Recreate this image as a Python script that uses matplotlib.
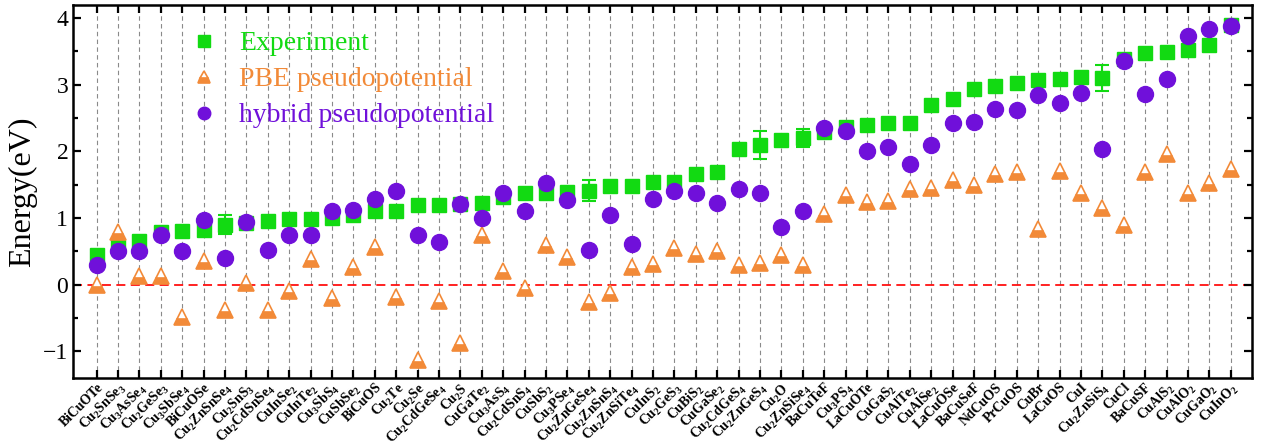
#!/usr/bin/env python3
"""Band gaps of Cu-based compounds: experiment vs PBE and hybrid pseudopotentials."""
import matplotlib
matplotlib.use("Agg")
import matplotlib.pyplot as plt
import matplotlib.transforms as mtransforms
from matplotlib.lines import Line2D
from matplotlib.ticker import MultipleLocator

COMPOUNDS = [
    "BiCuOTe", "Cu$_2$SnSe$_3$", "Cu$_3$AsSe$_4$", "Cu$_2$GeSe$_3$", "Cu$_3$SbSe$_4$",
    "BiCuOSe", "Cu$_2$ZnSnSe$_4$", "Cu$_2$SnS$_3$", "Cu$_2$CdSnSe$_4$", "CuInSe$_2$",
    "CuInTe$_2$", "Cu$_3$SbS$_4$", "CuSbSe$_2$", "BiCuOS", "Cu$_2$Te",
    "Cu$_2$Se", "Cu$_2$CdGeSe$_4$", "Cu$_2$S", "CuGaTe$_2$", "Cu$_3$AsS$_4$",
    "Cu$_2$CdSnS$_4$", "CuSbS$_2$", "Cu$_3$PSe$_4$", "Cu$_2$ZnGeSe$_4$", "Cu$_2$ZnSnS$_4$",
    "Cu$_2$ZnSiTe$_4$", "CuInS$_2$", "Cu$_2$GeS$_3$", "CuBiS$_2$", "CuGaSe$_2$",
    "Cu$_2$CdGeS$_4$", "Cu$_2$ZnGeS$_4$", "Cu$_2$O", "Cu$_2$ZnSiSe$_4$", "BaCuTeF",
    "Cu$_3$PS$_4$", "LaCuOTe", "CuGaS$_2$", "CuAlTe$_2$", "CuAlSe$_2$",
    "LaCuOSe", "BaCuSeF", "NdCuOS", "PrCuOS", "CuBr",
    "LaCuOS", "CuI", "Cu$_2$ZnSiS$_4$", "CuCl", "BaCuSF",
    "CuAlS$_2$", "CuAlO$_2$", "CuGaO$_2$", "CuInO$_2$",
]

# band gaps in eV
experiment = [
    0.45, 0.57, 0.66, 0.79, 0.80, 0.82, 0.90, 0.93, 0.96, 0.99,
    0.99, 1.00, 1.05, 1.10, 1.11, 1.20, 1.20, 1.21, 1.22, 1.31,
    1.37, 1.38, 1.39, 1.41, 1.48, 1.48, 1.54, 1.54, 1.66, 1.69,
    2.04, 2.09, 2.17, 2.20, 2.29, 2.37, 2.39, 2.42, 2.42, 2.70,
    2.79, 2.94, 2.98, 3.03, 3.07, 3.09, 3.11, 3.10, 3.39, 3.47,
    3.49, 3.53, 3.60, 3.90,
]
experiment_err = [
    0, 0, 0, 0, 0, 0, 0.14, 0, 0, 0,
    0, 0, 0, 0, 0, 0, 0, 0, 0, 0,
    0, 0, 0, 0.16, 0, 0, 0, 0, 0, 0,
    0, 0.21, 0, 0.14, 0, 0, 0, 0, 0, 0,
    0, 0, 0, 0, 0, 0, 0, 0.20, 0, 0,
    0, 0, 0, 0,
]
pbe = [
    0.00, 0.79, 0.13, 0.13, -0.49, 0.35, -0.38, 0.02, -0.38, -0.09,
    0.38, -0.20, 0.27, 0.56, -0.18, -1.13, -0.24, -0.87, 0.75, 0.21,
    -0.05, 0.59, 0.41, -0.26, -0.13, 0.27, 0.31, 0.55, 0.46, 0.50,
    0.30, 0.32, 0.45, 0.30, 1.06, 1.35, 1.24, 1.25, 1.44, 1.45,
    1.57, 1.49, 1.66, 1.69, 0.84, 1.70, 1.38, 1.15, 0.89, 1.69,
    1.96, 1.37, 1.53, 1.74,
]
hybrid = [
    0.30, 0.51, 0.51, 0.74, 0.51, 0.97, 0.40, 0.94, 0.52, 0.75,
    0.75, 1.10, 1.12, 1.29, 1.40, 0.75, 0.64, 1.21, 1.00, 1.38,
    1.10, 1.53, 1.27, 0.52, 1.04, 0.61, 1.29, 1.40, 1.38, 1.22,
    1.43, 1.38, 0.87, 1.10, 2.35, 2.31, 2.00, 2.06, 1.81, 2.09,
    2.42, 2.44, 2.64, 2.62, 2.84, 2.73, 2.88, 2.03, 3.35, 2.86,
    3.09, 3.74, 3.84, 3.88,
]

GREEN = "#12DA12"
ORANGE = "#F28A38"
PURPLE = "#7010DA"

plt.rcParams["font.family"] = ["Liberation Serif", "DejaVu Serif"]
plt.rcParams["mathtext.fontset"] = "custom"
plt.rcParams["mathtext.rm"] = "Liberation Serif:bold"
plt.rcParams["mathtext.it"] = "Liberation Serif:bold"
plt.rcParams["mathtext.bf"] = "Liberation Serif:bold"


def main():
    x = list(range(len(COMPOUNDS)))

    fig = plt.figure(figsize=(12.61, 4.43), dpi=100)
    ax = fig.add_axes([0.058, 0.147, 0.935, 0.842])

    for xi in x:
        ax.axvline(xi, color="#8a8a8a", lw=0.8, ls=(0, (4, 3)), zorder=0)
    ax.axhline(0, color="#ff1010", lw=1.3, ls=(0, (5, 3)), zorder=1)

    ax.errorbar(x, experiment, yerr=experiment_err, fmt="s", color=GREEN,
                ms=10, mec=GREEN, ecolor=GREEN, elinewidth=1.5, capsize=5,
                capthick=1.5, zorder=3)
    tri_style = dict(marker="^", color=ORANGE, mfc=ORANGE, mfcalt="white",
                     mec=ORANGE, mew=1.2, fillstyle="bottom")
    ax.plot(x, pbe, ls="none", ms=11, zorder=4, **tri_style)
    ax.plot(x, hybrid, ls="none", marker="o", ms=11.5, color=PURPLE,
            mec=PURPLE, zorder=5)

    ax.set_xlim(-1.1, len(COMPOUNDS))
    ax.set_ylim(-1.4, 4.2)
    ax.yaxis.set_major_locator(MultipleLocator(1))
    ax.yaxis.set_minor_locator(MultipleLocator(0.5))
    ax.set_xticks(x)
    ax.set_xticklabels(COMPOUNDS, rotation=45, ha="right",
                       rotation_mode="anchor", fontsize=9.9, fontweight="bold")
    # nudge the slanted labels so their ends sit just right of each tick
    shift = mtransforms.ScaledTranslation(0.09, 0.02, fig.dpi_scale_trans)
    for lbl in ax.get_xticklabels():
        lbl.set_transform(lbl.get_transform() + shift)
    ax.tick_params(axis="both", which="both", direction="in",
                   top=True, right=True, width=1.6)
    ax.tick_params(axis="both", which="major", length=6)
    ax.tick_params(axis="y", which="minor", length=3.5)
    ax.tick_params(axis="y", labelsize=17)
    ax.tick_params(axis="x", pad=2)
    for s in ax.spines.values():
        s.set_linewidth(1.8)

    ax.set_ylabel("Energy(eV)", fontsize=23, labelpad=4)

    # legend uses plain marker proxies (no error bar glyph)
    handles = [
        Line2D([], [], ls="none", marker="s", ms=8, color=GREEN),
        Line2D([], [], ls="none", ms=9, **tri_style),
        Line2D([], [], ls="none", marker="o", ms=9, color=PURPLE),
    ]
    labels = ["Experiment", "PBE pseudopotential", "hybrid pseudopotential"]
    leg = ax.legend(handles, labels, loc="upper left",
                    bbox_to_anchor=(0.078, 0.997), frameon=False,
                    fontsize=20, handlelength=1.0,
                    handletextpad=0.75, labelspacing=0.38)
    for txt, col in zip(leg.get_texts(), [GREEN, ORANGE, PURPLE]):
        txt.set_color(col)

    fig.savefig("out.png", dpi=100)
    plt.close(fig)


if __name__ == "__main__":
    main()
